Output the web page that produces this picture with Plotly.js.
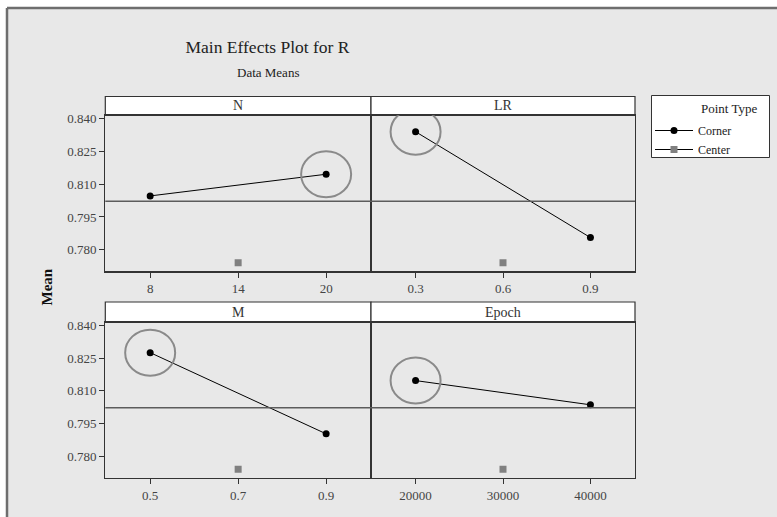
<!DOCTYPE html>
<html>
<head>
<meta charset="utf-8">
<script src="https://cdn.plot.ly/plotly-3.0.1.min.js"></script>
<style>html,body{margin:0;padding:0;background:#fff;}#chart{width:777px;height:517px;}</style>
</head>
<body>
<div id="chart"></div>
<script>
// ---- data ----
const factorNames = ['N', 'LR', 'M', 'Epoch'];
const nLevels = [8, 20];           const nMeans = [0.8046, 0.8145];      const nCenter = 14;
const lrLevels = [0.3, 0.9];       const lrMeans = [0.8339, 0.7856];     const lrCenter = 0.6;
const mLevels = [0.5, 0.9];        const mMeans = [0.8275, 0.7903];      const mCenter = 0.7;
const epochLevels = [20000, 40000]; const epochMeans = [0.8147, 0.8036]; const epochCenter = 30000;
const centerMean = 0.7741;
const grandMean = 0.8022;
const yTickVals = [0.780, 0.795, 0.810, 0.825, 0.840];
const nTickText = ['8', '14', '20'];
const lrTickText = ['0.3', '0.6', '0.9'];
const mTickText = ['0.5', '0.7', '0.9'];
const epochTickText = ['20000', '30000', '40000'];

const FONT = 'Liberation Serif, Times New Roman, serif';
const W = 777, H = 517;
const px = v => v / W;          // x pixel -> paper
const py = v => 1 - v / H;      // y pixel -> paper

const panels = [
  {name: factorNames[0], lv: nLevels, mn: nMeans, c: nCenter, tt: nTickText, xa: 'x', ya: 'y'},
  {name: factorNames[1], lv: lrLevels, mn: lrMeans, c: lrCenter, tt: lrTickText, xa: 'x2', ya: 'y2'},
  {name: factorNames[2], lv: mLevels, mn: mMeans, c: mCenter, tt: mTickText, xa: 'x3', ya: 'y3'},
  {name: factorNames[3], lv: epochLevels, mn: epochMeans, c: epochCenter, tt: epochTickText, xa: 'x4', ya: 'y4'}
];

const colDom = [[px(105.3), px(371)], [px(371), px(635)]];
const rowDom = [[py(271.3), py(115.3)], [py(477.7), py(322.3)]];
const stripTop = [py(96.5), py(302)];
const yRange = [0.7702, 0.8414];

const traces = [];
const shapes = [];
const annotations = [];

panels.forEach((p, i) => {
  traces.push({
    x: p.lv, y: p.mn, xaxis: p.xa, yaxis: p.ya, type: 'scatter', mode: 'lines+markers',
    name: 'Corner', legendgroup: 'corner', showlegend: i === 0,
    line: {color: '#000', width: 1}, marker: {color: '#000', size: 7, symbol: 'circle'}
  });
  traces.push({
    x: [p.c], y: [centerMean], xaxis: p.xa, yaxis: p.ya, type: 'scatter', mode: 'lines+markers',
    name: 'Center', legendgroup: 'center', showlegend: i === 0,
    line: {color: '#000', width: 1}, marker: {color: '#808080', size: 7, symbol: 'square'}
  });
  const col = i % 2, row = Math.floor(i / 2);
  // strip header
  shapes.push({type: 'rect', xref: 'paper', yref: 'paper', x0: colDom[col][0], x1: colDom[col][1],
    y0: rowDom[row][1], y1: stripTop[row], fillcolor: '#fff', line: {color: '#333', width: 1.2}, layer: 'below'});
  annotations.push({xref: 'paper', yref: 'paper', x: (colDom[col][0] + colDom[col][1]) / 2,
    y: (rowDom[row][1] + stripTop[row]) / 2, text: p.name, showarrow: false,
    xanchor: 'center', yanchor: 'middle', font: {family: FONT, size: 14, color: '#333'}});
  // grand mean reference line
  const xd = p.xa + ' domain';
  shapes.push({type: 'line', xref: xd, yref: p.ya, x0: 0, x1: 1, y0: grandMean, y1: grandMean,
    line: {color: '#5c5c5c', width: 1.5}});
  // circle around the highest mean
  const k = p.mn.indexOf(Math.max(...p.mn));
  shapes.push({type: 'circle', xref: p.xa, yref: p.ya, xsizemode: 'pixel', ysizemode: 'pixel',
    xanchor: p.lv[k], yanchor: p.mn[k], x0: -25, x1: 25, y0: -23, y1: 23,
    line: {color: '#8a8a8a', width: 2}});
});

// outer background and the visible top/left frame edges
shapes.unshift(
  {type: 'rect', xref: 'paper', yref: 'paper', x0: px(7), x1: 1.2, y0: -0.2, y1: py(8),
    fillcolor: '#e8e8e8', line: {width: 0}, layer: 'below'},
  {type: 'line', xref: 'paper', yref: 'paper', x0: px(7), x1: 1.2, y0: py(8), y1: py(8),
    line: {color: '#6e6e6e', width: 2.5}, layer: 'below'},
  {type: 'line', xref: 'paper', yref: 'paper', x0: px(7), x1: px(7), y0: -0.2, y1: py(8),
    line: {color: '#6e6e6e', width: 2.5}, layer: 'below'}
);
// legend box
shapes.push({type: 'rect', xref: 'paper', yref: 'paper', x0: px(651.5), x1: px(769.5), y0: py(157.5), y1: py(95.5),
  fillcolor: '#fff', line: {color: '#333', width: 1}, layer: 'below'});

annotations.push({xref: 'paper', yref: 'paper', x: px(267.5), y: py(72), text: 'Data Means', showarrow: false,
  xanchor: 'center', yanchor: 'middle', font: {family: FONT, size: 13, color: '#222'}});
annotations.push({xref: 'paper', yref: 'paper', x: px(46.5), y: py(287), text: '<b>Mean</b>', showarrow: false,
  textangle: -90, xanchor: 'center', yanchor: 'middle', font: {family: FONT, size: 15, color: '#111'}});
annotations.push({xref: 'paper', yref: 'paper', x: px(729), y: py(109), text: 'Point Type', showarrow: false,
  xanchor: 'center', yanchor: 'middle', font: {family: FONT, size: 13, color: '#222'}});

function xAxis(p, col, row, anchor) {
  const lo = Math.min(...p.lv), hi = Math.max(...p.lv), half = (hi - lo) / 2, mid = (hi + lo) / 2;
  return {
    domain: colDom[col], anchor: anchor, range: [mid - half * 1.51, mid + half * 1.51],
    tickvals: [p.lv[0], p.c, p.lv[1]], ticktext: p.tt, ticks: 'outside', ticklen: 5, tickcolor: '#333',
    showline: true, mirror: true, linecolor: '#333', linewidth: 1.2, showgrid: false, zeroline: false,
    tickfont: {family: FONT, size: 13, color: '#444'}, fixedrange: true
  };
}
function yAxis(col, row, anchor, showLabels) {
  return {
    domain: rowDom[row], anchor: anchor, range: yRange, tickvals: yTickVals, tickformat: '.3f',
    ticks: showLabels ? 'outside' : '', ticklen: 5, tickcolor: '#333', showticklabels: showLabels,
    showline: true, mirror: true, linecolor: '#333', linewidth: 1.2, showgrid: false, zeroline: false,
    tickfont: {family: FONT, size: 13, color: '#444'}, fixedrange: true
  };
}

const layout = {
  width: W, height: H, margin: {l: 0, r: 0, t: 0, b: 0},
  paper_bgcolor: '#fff', plot_bgcolor: '#fff', hovermode: false,
  title: {text: 'Main Effects Plot for R', x: px(267.5), xanchor: 'center', y: py(47), yanchor: 'middle',
    font: {family: FONT, size: 17.5, color: '#222'}},
  xaxis: xAxis(panels[0], 0, 0, 'y'),
  xaxis2: xAxis(panels[1], 1, 0, 'y2'),
  xaxis3: xAxis(panels[2], 0, 1, 'y3'),
  xaxis4: xAxis(panels[3], 1, 1, 'y4'),
  yaxis: yAxis(0, 0, 'x', true),
  yaxis2: Object.assign(yAxis(1, 0, 'x2', false), {matches: 'y'}),
  yaxis3: yAxis(0, 1, 'x3', true),
  yaxis4: Object.assign(yAxis(1, 1, 'x4', false), {matches: 'y3'}),
  showlegend: true,
  legend: {x: px(650), y: py(116), xanchor: 'left', yanchor: 'top', bgcolor: 'rgba(0,0,0,0)', borderwidth: 0,
    itemwidth: 38, font: {family: FONT, size: 12, color: '#222'}, tracegroupgap: 0},
  shapes: shapes, annotations: annotations
};

Plotly.newPlot('chart', traces, layout, {staticPlot: true, displayModeBar: false});
</script>
</body>
</html>
